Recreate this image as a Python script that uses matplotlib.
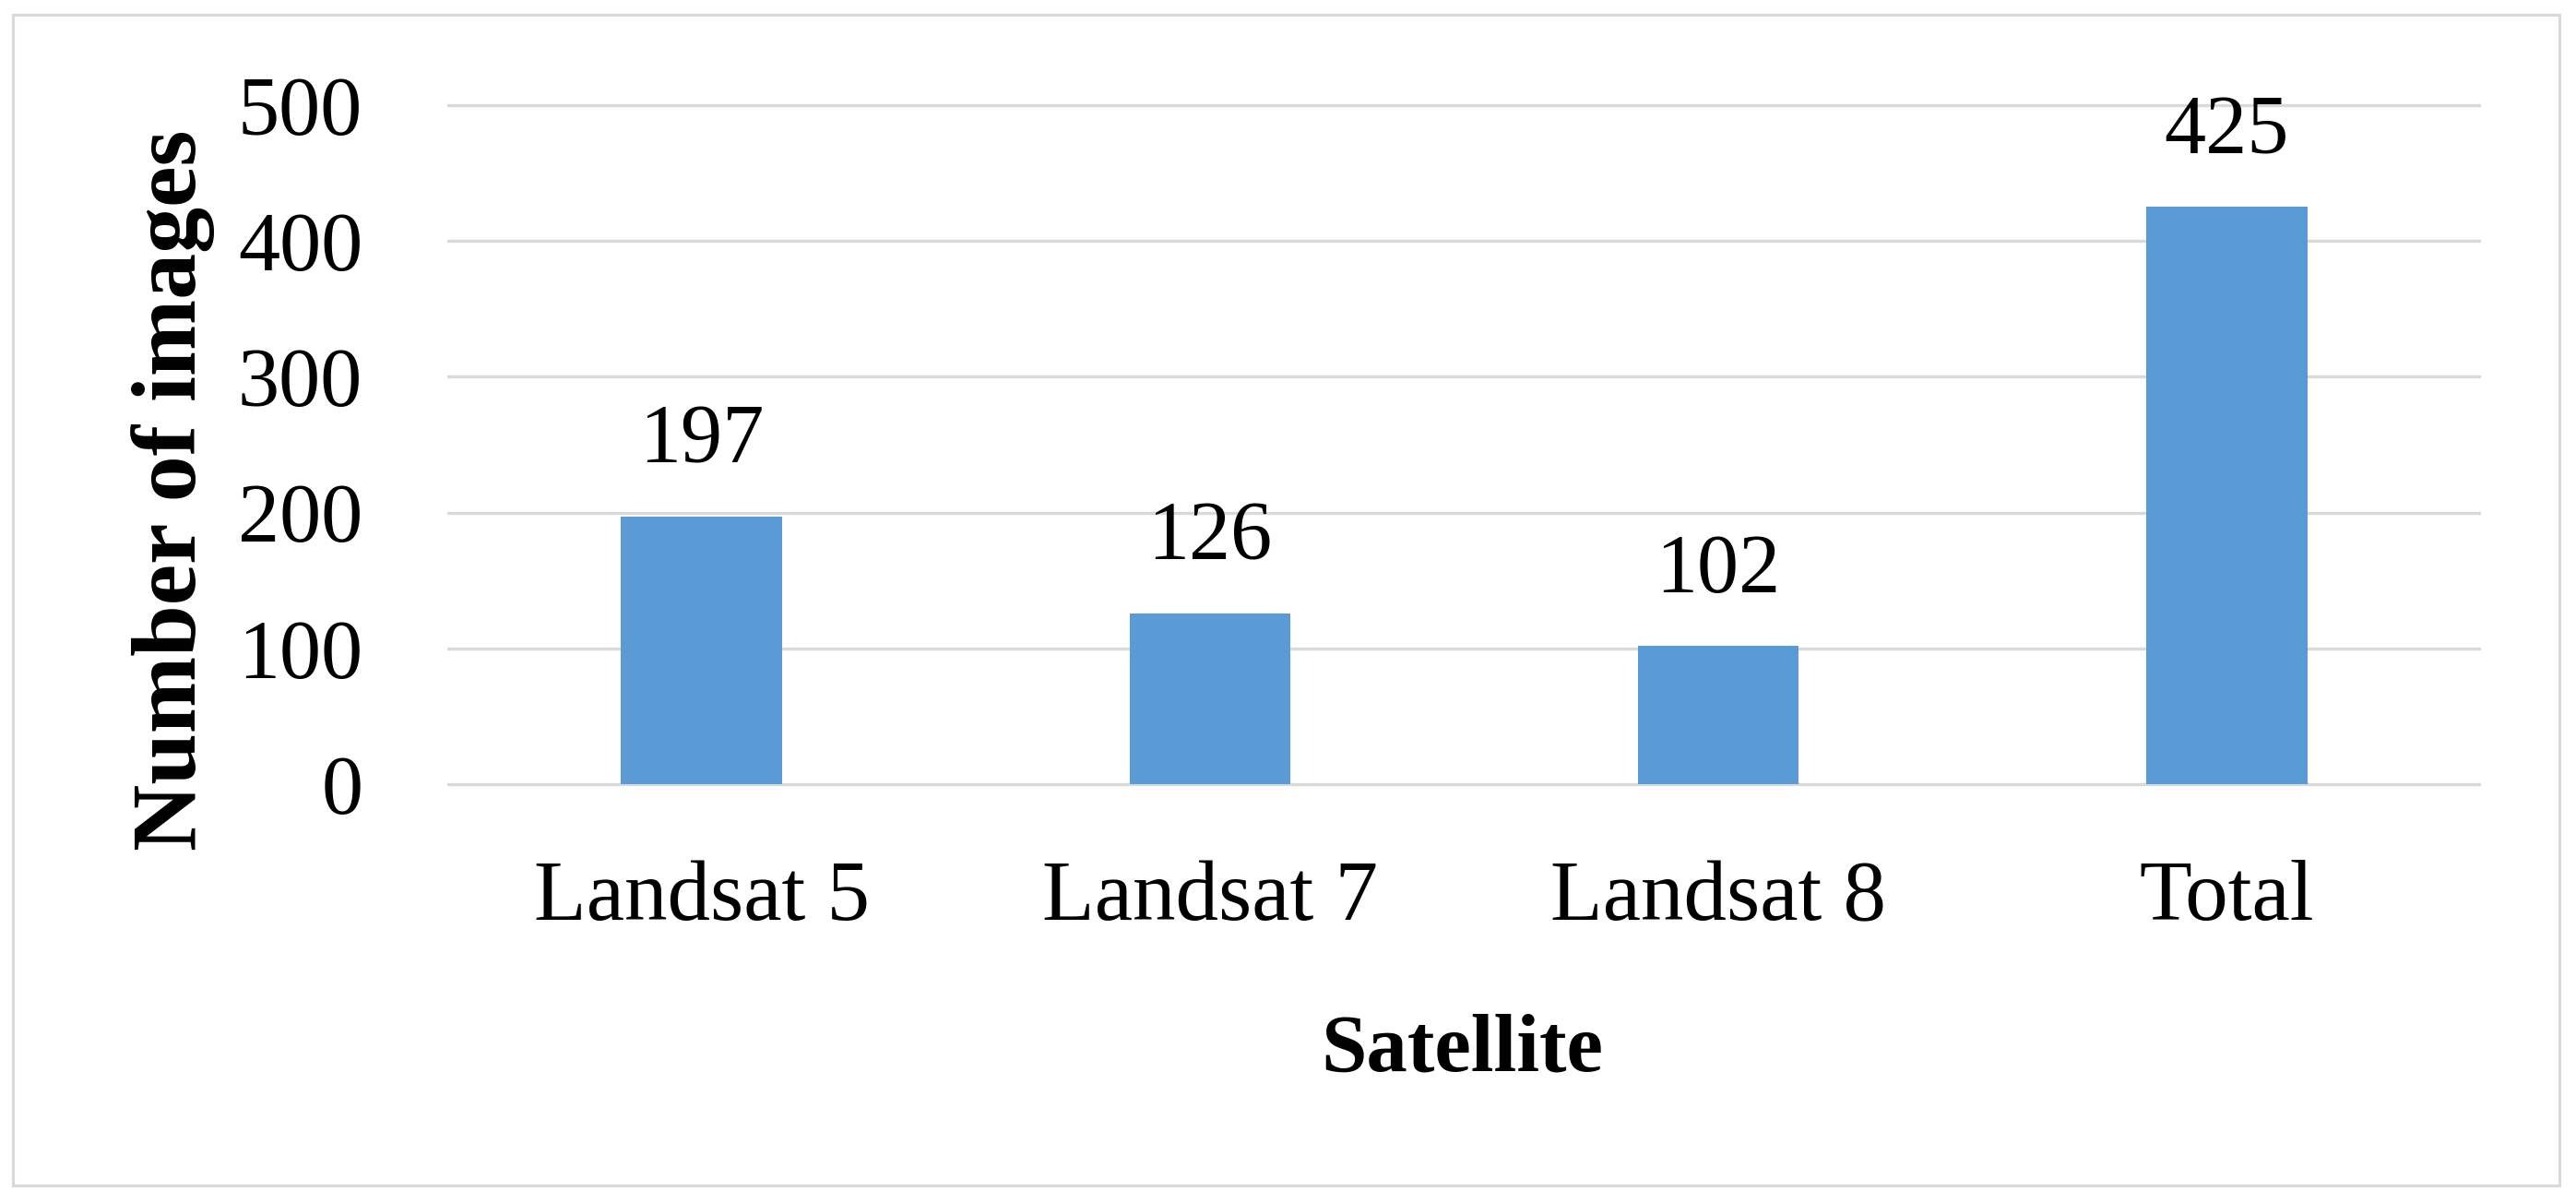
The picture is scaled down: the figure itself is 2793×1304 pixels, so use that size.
import matplotlib
matplotlib.use('Agg')
import matplotlib.pyplot as plt
from matplotlib.patches import Rectangle


# data
satellites = ['Landsat 5', 'Landsat 7', 'Landsat 8', 'Total']
n_images = [197, 126, 102, 425]
y_ticks = [0, 100, 200, 300, 400, 500]

plt.rcParams['font.family'] = ['Liberation Serif', 'DejaVu Serif']

W, H = 2793, 1304
fig = plt.figure(figsize=(W / 100, H / 100), dpi=100)

# outer light grey frame
fig.patches.append(Rectangle((14 / W, 19 / H), 2761 / W, 1269 / H,
                             transform=fig.transFigure, fill=False,
                             ec='#d9d9d9', lw=2.2))

plot = fig.add_axes([485 / W, 449.6 / H, 2205 / W, 744.8 / H])

x_axis = range(len(satellites))
plot.bar(x_axis, n_images, width=0.317, color='#5b9bd5', zorder=3)

for x, v in zip(x_axis, n_images):
    plot.annotate(str(v), (x, v), xytext=(0, 42), textcoords='offset points',
                  ha='center', va='baseline', fontsize=65)

plot.set_xlim(-0.5, 3.5)
plot.set_ylim(-3, 503)
plot.set_yticks(y_ticks)
plot.set_xticks(list(x_axis))
plot.set_xticklabels(satellites)
plot.tick_params(axis='y', length=0, labelsize=65, pad=66)
plot.tick_params(axis='x', length=0, labelsize=67, pad=56)

plot.grid(axis='y', color='#d9d9d9', lw=2.4, zorder=0)
for s in plot.spines.values():
    s.set_visible(False)

fig.text(1585 / W, 1 - 1161 / H, 'Satellite', ha='center', va='baseline',
         fontsize=64, fontweight='bold')
fig.text(188 / W, 1 - 531 / H, 'Number of images', ha='center', va='center',
         rotation=90, fontsize=72, fontweight='bold')

plt.savefig('out.png', dpi=100)
